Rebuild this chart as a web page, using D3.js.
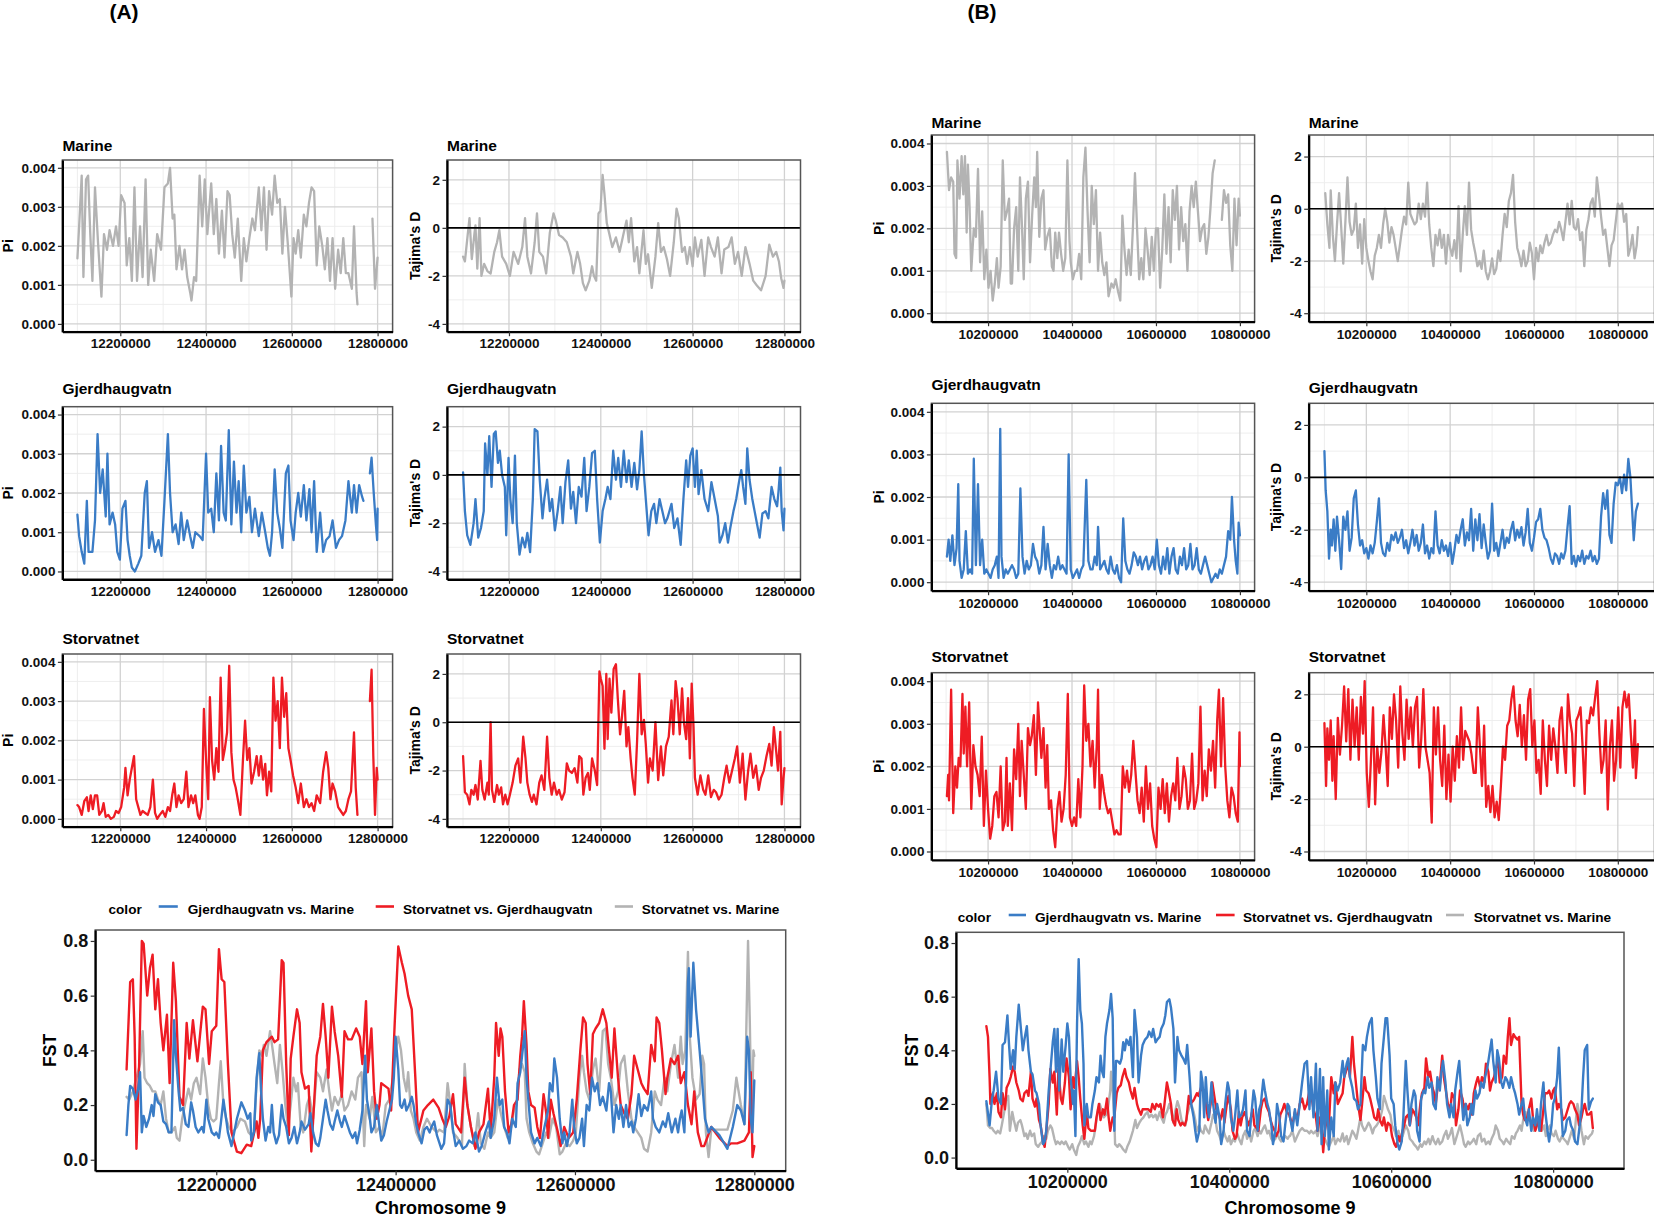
<!DOCTYPE html>
<html><head><meta charset="utf-8">
<script src="https://cdnjs.cloudflare.com/ajax/libs/d3/7.8.5/d3.min.js"></script>
<style>
html,body{margin:0;padding:0;background:#fff}
svg{display:block}
</style>
</head><body>
<svg id="chart" width="1654" height="1219"></svg>
<script>
// ---------------- categories / labels ----------------
const populations = ["Marine", "Gjerdhaugvatn", "Storvatnet"];
const fstLabels = ["Gjerdhaugvatn vs. Marine", "Storvatnet vs. Gjerdhaugvatn", "Storvatnet vs. Marine"];
const popColors = ["#b3b3b3", "#3a7cc6", "#ee1c24"];
const fstColors = ["#3a7cc6", "#ee1c24", "#b3b3b3"];
// tick values (positions in kb)
const xTicksA = [12200, 12400, 12600, 12800];
const xMinorA = [12100, 12300, 12500, 12700];
const xTicksB = [10200, 10400, 10600, 10800];
const xMinorB = [10100, 10300, 10500, 10700];
const piTicks = [0, 0.001, 0.002, 0.003, 0.004];
const piMinor = [0.0005, 0.0015, 0.0025, 0.0035];
const tajTicks = [-4, -2, 0, 2];
const tajMinor = [-3, -1, 1];
const fstTicks = [0, 0.2, 0.4, 0.6, 0.8];

// ---------------- series: [position (kb), value] ----------------
// (A) region, Pi
const piMarA = [[12100,.00168],[12104,.0025],[12110,.0038],[12114,.0012],[12120,.0037],[12125,.0038],[12130,.0023],[12135,.0011],[12141,.0035],[12148,.0021],[12156,.0007],[12162,.0023],[12169,.0019],[12175,.0024],[12183,.002],[12190,.0025],[12196,.002],[12202,.0033],[12210,.0031],[12215,.0015],[12221,.0022],[12227,.0011],[12233,.0035],[12239,.0011],[12246,.0025],[12252,.0012],[12259,.0037],[12265,.001],[12271,.0019],[12279,.0011],[12286,.0023],[12295,.0019],[12303,.0035],[12311,.0036],[12316,.004],[12322,.0027],[12326,.0028],[12331,.0014],[12338,.002],[12344,.0014],[12350,.0019],[12356,.0012],[12363,.0008],[12366,.0006],[12372,.0012],[12377,.0011],[12385,.0038],[12391,.0025],[12397,.0037],[12403,.0023],[12412,.0036],[12418,.0023],[12424,.0032],[12430,.0018],[12437,.0029],[12443,.0017],[12450,.0034],[12455,.0033],[12461,.0023],[12467,.0017],[12474,.0027],[12482,.0011],[12488,.0022],[12494,.0016],[12501,.0022],[12508,.0027],[12514,.0024],[12523,.0035],[12529,.0024],[12535,.0035],[12541,.0019],[12547,.0034],[12554,.0028],[12560,.0038],[12566,.0031],[12572,.0032],[12578,.0018],[12584,.003],[12591,.002],[12599,.0007],[12604,.0022],[12609,.0018],[12615,.0024],[12621,.0017],[12628,.0028],[12634,.0025],[12640,.0031],[12646,.0035],[12652,.0034],[12658,.0015],[12664,.0025],[12671,.002],[12677,.0014],[12683,.0022],[12689,.0011],[12695,.0022],[12701,.0009],[12708,.0019],[12714,.0013],[12720,.0022],[12726,.0013],[12732,.0013],[12740,.0009],[12745,.0025],[12751,.0008],[12753,.0005],[12770,null],[12788,.0027],[12794,.0009],[12800,.0017]];
const piGjA = [[12100,.00145],[12104,.0009],[12110,.0005],[12116,.0002],[12122,.0018],[12126,.0005],[12135,.0005],[12141,.0013],[12147,.0035],[12153,.002],[12159,.0026],[12166,.0014],[12170,.003],[12175,.0012],[12182,.0015],[12188,.0012],[12193,.0005],[12199,.0003],[12205,.0016],[12212,.0018],[12217,.0008],[12222,.0004],[12227,.0001],[12234,0],[12242,.0002],[12249,.0004],[12257,.002],[12262,.0023],[12267,.0006],[12274,.001],[12281,.0005],[12289,.0008],[12296,.0004],[12303,.0018],[12311,.0035],[12316,.002],[12322,.001],[12329,.0012],[12336,.0007],[12342,.0015],[12348,.0008],[12356,.0013],[12363,.0009],[12369,.0006],[12375,.001],[12385,.0009],[12392,.0008],[12400,.003],[12405,.0015],[12412,.0016],[12418,.001],[12424,.0025],[12430,.0013],[12435,.0032],[12441,.0015],[12446,.0013],[12453,.0036],[12459,.0012],[12465,.0028],[12471,.0015],[12476,.0023],[12482,.001],[12488,.0027],[12494,.0015],[12501,.0019],[12507,.001],[12514,.0016],[12523,.0009],[12530,.0015],[12538,.001],[12544,.0006],[12549,.0004],[12554,.001],[12560,.0026],[12566,.0015],[12572,.0011],[12578,.0006],[12586,.0025],[12592,.0027],[12597,.0013],[12604,.0008],[12609,.0015],[12615,.002],[12621,.0014],[12628,.0022],[12634,.0013],[12641,.0021],[12646,.001],[12652,.0023],[12658,.0005],[12666,.0015],[12673,.0005],[12680,.0008],[12688,.0009],[12695,.0013],[12703,.0006],[12710,.0008],[12717,.0009],[12725,.0013],[12732,.0023],[12740,.0015],[12745,.0022],[12751,.0015],[12757,.0022],[12764,.0019],[12767,.0018],[12775,null],[12782,.0025],[12786,.0029],[12791,.002],[12796,.0012],[12799,.0008],[12800,.0016]];
const piStA = [[12100,.00035],[12104,.0003],[12110,.0001],[12116,.00045],[12122,.00055],[12126,.0002],[12131,.0006],[12136,.00025],[12141,.0006],[12146,.0006],[12151,.0001],[12157,.0002],[12161,.0004],[12166,.00005],[12172,.0001],[12178,0],[12185,.00005],[12190,.0002],[12196,.00015],[12202,.0003],[12209,.0008],[12212,.0013],[12217,.0006],[12222,.001],[12227,.0013],[12232,.0016],[12237,.0005],[12242,.0003],[12247,.0001],[12252,.0002],[12258,.00015],[12264,.0001],[12270,.0003],[12276,.001],[12281,.00015],[12286,0],[12292,.0001],[12299,.0002],[12305,.00005],[12311,.0003],[12316,.0002],[12321,.0006],[12326,.0009],[12331,.0003],[12336,.0006],[12342,.0004],[12348,.0005],[12354,.0012],[12359,.0003],[12365,.0006],[12370,.0004],[12375,.0006],[12381,.0001],[12385,0],[12390,.0003],[12395,.0028],[12400,.0015],[12405,.0005],[12409,.0031],[12414,.0015],[12419,.001],[12424,.0018],[12429,.0012],[12434,.0036],[12439,.0015],[12444,.0018],[12449,.0022],[12454,.0039],[12459,.0017],[12464,.001],[12469,.0008],[12474,.0005],[12480,.0001],[12486,.0015],[12491,.0025],[12496,.0015],[12501,.0018],[12506,.0009],[12512,.0012],[12518,.0016],[12523,.0011],[12528,.0016],[12533,.001],[12538,.0014],[12542,.0006],[12547,.0012],[12552,.0007],[12557,.0036],[12562,.0025],[12567,.003],[12572,.0018],[12577,.0036],[12582,.0026],[12587,.0032],[12592,.0018],[12597,.0015],[12603,.0011],[12609,.0008],[12615,.0004],[12621,.0009],[12628,.0003],[12634,.0005],[12640,.0003],[12646,.0004],[12652,.0002],[12658,.0006],[12666,.0004],[12673,.0012],[12680,.0017],[12685,.0013],[12690,.0005],[12695,.0009],[12701,.0007],[12708,.0003],[12714,.0002],[12720,.0001],[12726,.0002],[12732,.0005],[12738,.0007],[12745,.0022],[12749,.0008],[12753,.0001],[12770,null],[12782,.003],[12786,.0038],[12790,.0016],[12794,.0001],[12798,.0013],[12800,.001]];
// (A) region, Tajima's D
const tajMarA = [[12100,-1.2],[12104,-1.4],[12110,-0.3],[12114,0.4],[12119,-1.3],[12125,-0.2],[12127,0.1],[12131,-1.7],[12136,0.4],[12140,-2],[12146,-1.5],[12153,-1.8],[12160,-1.9],[12168,-1],[12174,-0.6],[12179,-0.1],[12185,-1.2],[12194,-1.5],[12202,-2],[12210,-1],[12220,-1.5],[12229,-0.8],[12235,0.4],[12240,-1.2],[12248,-1.9],[12256,-0.6],[12261,0.6],[12266,-1],[12274,-1.2],[12281,-1.9],[12289,-0.2],[12297,0.6],[12302,0.3],[12309,-0.3],[12317,-0.4],[12326,-0.6],[12335,-1.2],[12340,-1.9],[12349,-1],[12355,-1.5],[12361,-2.3],[12367,-2.6],[12375,-2.2],[12381,-1.6],[12385,-2],[12390,-2.2],[12395,0.6],[12399,0.7],[12404,2.2],[12408,1.4],[12413,0.2],[12418,-0.2],[12425,-0.8],[12433,-0.4],[12441,-1],[12450,-0.2],[12456,0.3],[12461,-0.6],[12466,0.4],[12473,-1.4],[12479,-0.8],[12484,-1.9],[12493,-0.1],[12498,-1.5],[12503,-1.1],[12511,-2.5],[12519,-1.2],[12525,0.2],[12531,-1],[12537,-0.8],[12544,-1.3],[12551,-2],[12559,-0.6],[12565,0.8],[12570,0.4],[12577,-1],[12583,-0.8],[12588,-1.5],[12594,-0.8],[12600,-1.6],[12605,-0.4],[12611,-1.2],[12619,-0.5],[12626,-2],[12634,-0.4],[12640,-0.8],[12648,-1.2],[12655,-0.4],[12663,-1.9],[12669,-0.9],[12678,-0.8],[12685,-0.4],[12692,-1.5],[12699,-1],[12707,-2],[12715,-0.8],[12724,-1.5],[12732,-2.2],[12740,-2.4],[12749,-2.6],[12759,-2],[12767,-0.7],[12775,-1.2],[12782,-1],[12788,-1.4],[12793,-2.1],[12798,-2.5],[12800,-2.2]];
const tajGjA = [[12100,0.1],[12104,-1.5],[12109,-2.5],[12116,-2.9],[12123,-2],[12127,-1],[12133,-2.6],[12139,-2.2],[12145,-1.5],[12148,1.3],[12153,0],[12157,1.6],[12162,-0.5],[12167,1.7],[12171,1.8],[12176,0.5],[12180,1],[12185,0],[12191,-0.5],[12194,-2.5],[12199,0.7],[12203,-1],[12208,-2],[12213,0.8],[12217,-2],[12223,-3.3],[12229,-2.6],[12235,-3],[12240,-2.4],[12246,-3.2],[12252,-1],[12256,1.9],[12262,1.8],[12267,-0.2],[12273,-1.8],[12277,-1],[12283,-0.2],[12289,-1.5],[12294,-1],[12300,-2.3],[12306,-1.5],[12312,-0.5],[12317,-2],[12323,-0.3],[12329,0.6],[12335,-1.4],[12340,-0.7],[12346,-2],[12352,-0.5],[12358,-0.9],[12364,0.7],[12369,-1.5],[12375,-0.5],[12381,0.9],[12387,1],[12392,-1],[12398,-2.8],[12404,-1.5],[12410,-1],[12415,-0.5],[12421,-1],[12427,1],[12433,-0.2],[12438,0.7],[12444,-0.5],[12450,1],[12456,-0.3],[12461,0.6],[12467,-0.5],[12473,0.5],[12479,-0.6],[12484,0.2],[12489,1.8],[12494,0],[12498,-1],[12504,-2.5],[12510,-1.5],[12516,-1.2],[12521,-2],[12528,-1],[12534,-1.5],[12540,-2],[12545,-1.8],[12554,-1.2],[12560,-2.2],[12567,-1.8],[12574,-2.9],[12580,-1],[12586,0.6],[12590,-0.5],[12595,0.8],[12600,1.1],[12605,-0.5],[12609,1],[12613,-0.8],[12619,0.2],[12626,-1],[12634,-1.5],[12641,-0.3],[12648,-1],[12655,-1.7],[12659,-2.8],[12665,-2.5],[12671,-2],[12677,-2.8],[12682,-2.2],[12689,-1.5],[12695,-1],[12701,-0.3],[12706,0.2],[12710,-0.5],[12715,-1.2],[12719,1.1],[12724,-0.2],[12730,-1],[12735,-1.5],[12740,-2],[12746,-2.6],[12752,-1.6],[12759,-1.5],[12765,-1.8],[12772,-0.5],[12778,-1],[12784,-1.3],[12787,-0.7],[12791,0.3],[12794,-1.5],[12798,-2.3],[12800,-1.4]];
const tajStA = [[12100,-1.4],[12104,-2.9],[12109,-3],[12114,-3.4],[12118,-2.8],[12123,-3],[12127,-2.6],[12132,-3.2],[12138,-1.6],[12142,-2.8],[12147,-3.2],[12153,-2.5],[12156,-3],[12160,0],[12163,-2.8],[12168,-3.3],[12174,-2.6],[12178,-3],[12183,-2.7],[12187,-3.4],[12192,-3],[12197,-3.4],[12202,-3],[12208,-2.5],[12214,-1.8],[12220,-1.5],[12225,-2.5],[12231,-0.6],[12236,-1.5],[12240,-2.5],[12245,-3],[12250,-3.3],[12254,-3],[12260,-3.4],[12266,-2.5],[12271,-2.2],[12277,-2.8],[12283,-0.6],[12288,-2.3],[12293,-3],[12298,-2.5],[12304,-3],[12309,-2.8],[12315,-3.2],[12321,-2.9],[12326,-1.7],[12331,-2],[12337,-2.1],[12343,-1.9],[12349,-2.5],[12353,-1.4],[12358,-1.5],[12362,-3],[12367,-2.3],[12372,-2.1],[12376,-2.8],[12381,-1.5],[12387,-2],[12392,-2.6],[12397,2.1],[12400,1.8],[12404,1.5],[12408,-1.1],[12412,2],[12415,-0.7],[12419,1.8],[12423,0.4],[12428,2.2],[12433,2.4],[12437,1],[12442,-0.5],[12446,0.2],[12451,1.3],[12456,-1],[12460,-0.2],[12465,-1.5],[12469,-2.3],[12474,-3],[12479,-0.8],[12484,2],[12489,-0.5],[12494,0.1],[12498,-0.9],[12503,-2.5],[12507,-1.5],[12513,-2],[12519,0],[12525,-2.4],[12531,-1],[12536,-2.2],[12542,-1],[12548,-0.6],[12554,0.9],[12558,-0.5],[12563,1.7],[12567,1],[12572,-0.5],[12577,1.4],[12581,0],[12586,-0.7],[12590,1],[12594,-1.5],[12598,1.6],[12602,-0.2],[12605,-2.3],[12611,-3],[12617,-2.2],[12623,-2.8],[12628,-3],[12634,-2.2],[12640,-3.1],[12646,-2.8],[12651,-2.9],[12657,-3.2],[12663,-3],[12669,-2.3],[12674,-1.8],[12680,-2.5],[12686,-2],[12692,-1.5],[12697,-1],[12703,-2.5],[12709,-1.3],[12715,-3.2],[12721,-2],[12726,-1.3],[12732,-2.3],[12738,-1.8],[12744,-2.8],[12749,-2.3],[12755,-2],[12761,-1.4],[12767,-0.9],[12772,-1.8],[12777,-0.2],[12782,-1.2],[12786,-2],[12791,-0.4],[12794,-3.4],[12798,-2.3],[12800,-1.9]];
// (B) region, Pi
const piMarB = [[10102,.0038],[10107,.0029],[10112,.0032],[10117,.0031],[10120,.0014],[10124,.0013],[10127,.0036],[10132,.0027],[10137,.0037],[10141,.0028],[10145,.0037],[10149,.0019],[10152,.0035],[10156,.0025],[10160,.001],[10166,.002],[10171,.0018],[10176,.0034],[10181,.0012],[10186,.0024],[10191,.0008],[10196,.0015],[10201,.0006],[10206,.001],[10211,.0003],[10216,.0007],[10221,.0013],[10225,.0006],[10230,.0011],[10235,.0036],[10240,.0022],[10245,.0024],[10250,.0027],[10254,.0007],[10257,.0007],[10262,.002],[10267,.0025],[10272,.001],[10276,.0032],[10281,.002],[10285,.0008],[10290,.0027],[10295,.0031],[10300,.0012],[10305,.0023],[10310,.0032],[10314,.0025],[10317,.0038],[10322,.0018],[10327,.0027],[10332,.0029],[10336,.0015],[10341,.0018],[10347,.002],[10352,.0011],[10356,.001],[10360,.0019],[10365,.0013],[10369,.0019],[10374,.0014],[10379,.001],[10384,.0013],[10389,.0036],[10394,.0017],[10397,.0012],[10402,.0008],[10407,.001],[10412,.001],[10417,.0014],[10422,.0008],[10427,.0032],[10432,.0039],[10437,.0024],[10442,.0012],[10447,.003],[10452,.0021],[10457,.0029],[10462,.001],[10467,.0019],[10472,.0012],[10477,.0009],[10482,.0012],[10487,.0004],[10494,.0007],[10499,.0006],[10504,.0008],[10510,.0005],[10515,.0003],[10520,.0023],[10525,.0015],[10530,.0009],[10535,.0015],[10540,.0009],[10545,.002],[10550,.0033],[10555,.002],[10560,.0008],[10565,.0013],[10570,.0008],[10575,.002],[10580,.0015],[10585,.0009],[10590,.0018],[10595,.001],[10600,.002],[10605,.002],[10610,.0006],[10615,.0015],[10620,.0028],[10625,.0014],[10630,.0025],[10635,.0012],[10640,.0029],[10645,.0022],[10650,.003],[10655,.0015],[10660,.0025],[10665,.0017],[10670,.0021],[10675,.001],[10680,.0024],[10685,.003],[10690,.0025],[10695,.0031],[10700,.0024],[10705,.0017],[10710,.002],[10715,.0021],[10720,.0014],[10725,.0018],[10730,.0025],[10735,.0033],[10740,.0036],[10748,null],[10757,.0022],[10762,.0029],[10767,.0026],[10772,.0028],[10777,.0016],[10782,.001],[10787,.0027],[10792,.0016],[10797,.0027],[10800,.0023]];
const piGjB = [[10102,.0006],[10106,.001],[10110,.0005],[10115,.0011],[10120,.0004],[10125,.0008],[10129,.0023],[10132,.0005],[10137,.0001],[10142,.0003],[10147,.0012],[10152,.0002],[10157,.0003],[10162,.0002],[10166,.0029],[10171,.0004],[10176,.0023],[10181,.0004],[10186,.001],[10191,.0002],[10196,.0003],[10201,.0002],[10206,.0001],[10211,.0003],[10216,.0004],[10221,.0006],[10225,.0001],[10229,.0036],[10232,.0006],[10237,.0001],[10242,.0003],[10247,.0002],[10252,.0003],[10257,.0004],[10262,.0003],[10267,.0001],[10272,.0002],[10277,.0022],[10282,.0006],[10287,.0002],[10292,.0005],[10297,.0003],[10302,.0004],[10307,.0009],[10312,.0006],[10317,.0005],[10322,.0002],[10327,.0004],[10332,.0013],[10337,.0003],[10342,.0009],[10347,.0004],[10352,.0001],[10357,.0004],[10362,.0003],[10367,.0006],[10372,.0003],[10377,.0004],[10382,.0003],[10387,.0002],[10392,.003],[10397,.0003],[10402,.0001],[10407,.0002],[10412,.0003],[10417,.0001],[10422,.0003],[10427,.0004],[10434,.0024],[10439,.0005],[10444,.0003],[10449,.0003],[10454,.0006],[10459,.0004],[10462,.0013],[10467,.0003],[10472,.0004],[10477,.0005],[10482,.0003],[10487,.0002],[10492,.0006],[10497,.0003],[10502,.0002],[10507,.0004],[10512,.0001],[10517,0],[10522,.0015],[10527,.0005],[10532,.0003],[10537,.0002],[10542,.0004],[10547,.0007],[10552,.0006],[10557,.0004],[10562,.0006],[10567,.0003],[10572,.0005],[10577,.0006],[10582,.0003],[10587,.0004],[10592,.0006],[10597,.0003],[10602,.001],[10607,.0004],[10612,.0002],[10617,.0006],[10622,.0003],[10627,.0008],[10632,.0002],[10637,.0006],[10642,.0008],[10647,.0003],[10652,.0002],[10657,.0006],[10662,.0004],[10667,.0008],[10672,.0003],[10677,.0004],[10682,.0009],[10687,.0003],[10692,.0004],[10697,.0008],[10702,.0003],[10707,.0002],[10712,.0004],[10717,.0006],[10722,.0004],[10727,.0002],[10732,0],[10737,.0001],[10742,.0002],[10747,.0001],[10752,.0003],[10757,.0002],[10762,.0004],[10767,.0006],[10772,.0012],[10777,.001],[10781,.002],[10786,.001],[10790,.0005],[10794,.0002],[10797,.0014],[10800,.0011]];
const piStB = [[10102,.0013],[10105,.0018],[10107,.0012],[10112,.0038],[10117,.0009],[10122,.002],[10126,.0015],[10130,.0022],[10134,.002],[10139,.0037],[10142,.0023],[10146,.0034],[10150,.002],[10155,.0035],[10160,.001],[10165,.0025],[10170,.002],[10175,.0018],[10180,.0013],[10185,.0027],[10190,.0006],[10195,.0019],[10200,.001],[10205,.0003],[10210,.0006],[10215,.0013],[10220,.0014],[10225,.0008],[10230,.002],[10235,.0005],[10240,.0007],[10244,.0022],[10247,.0006],[10252,.0016],[10257,.0005],[10262,.0024],[10267,.0017],[10272,.003],[10276,.0013],[10280,.0026],[10285,.0018],[10290,.001],[10295,.0029],[10300,.0025],[10304,.0027],[10309,.0032],[10314,.0018],[10319,.0035],[10322,.003],[10327,.0022],[10332,.0029],[10337,.0015],[10341,.0025],[10345,.001],[10350,.0012],[10355,.0005],[10360,.0001],[10365,.001],[10370,.0014],[10375,.0007],[10380,.001],[10385,.0018],[10390,.0037],[10395,.0008],[10400,.0006],[10405,.0008],[10410,.0006],[10415,.0017],[10420,.0008],[10425,.002],[10429,.0039],[10434,.0026],[10439,.003],[10444,.002],[10449,.0026],[10454,.0015],[10459,.0025],[10462,.0038],[10466,.001],[10471,.0018],[10476,.0014],[10481,.0011],[10486,.0009],[10491,.001],[10496,.0007],[10501,.0004],[10506,.0005],[10511,.0004],[10516,.0004],[10521,.002],[10526,.0015],[10531,.0019],[10536,.0014],[10541,.0018],[10546,.0026],[10551,.0019],[10556,.0012],[10561,.0009],[10566,.0015],[10571,.0007],[10576,.002],[10581,.001],[10586,.0016],[10591,.0006],[10596,.0003],[10601,.0001],[10606,.0015],[10611,.001],[10616,.0017],[10621,.0009],[10626,.0016],[10631,.0007],[10636,.0013],[10641,.0016],[10646,.0012],[10651,.0022],[10656,.001],[10661,.0013],[10666,.002],[10671,.0017],[10676,.001],[10681,.0012],[10686,.0023],[10691,.001],[10696,.0012],[10701,.0016],[10706,.0034],[10711,.0012],[10716,.0019],[10721,.0013],[10726,.0024],[10731,.0019],[10736,.0026],[10741,.0015],[10746,.0031],[10750,.0038],[10755,.002],[10760,.0036],[10765,.002],[10770,.0012],[10775,.0008],[10780,.0015],[10785,.0013],[10790,.0009],[10795,.0007],[10799,.0028],[10800,.002]];
// (B) region, Tajima's D
const tajMarB = [[10102,0.6],[10107,-0.6],[10112,-1.5],[10115,0.7],[10120,-1],[10125,-2],[10130,-0.6],[10135,0.6],[10140,-0.7],[10145,-2.1],[10150,-0.5],[10155,1.2],[10160,-0.5],[10165,-1],[10170,-0.8],[10175,0.2],[10180,-1.5],[10185,-0.6],[10190,-2.1],[10195,-0.4],[10200,-1.5],[10205,-2],[10210,-2.4],[10215,-2.7],[10220,-1.8],[10225,-1.5],[10230,-1],[10235,-1.5],[10240,-0.6],[10245,0],[10250,-0.5],[10255,-1.3],[10260,-0.7],[10265,-1],[10270,-1.5],[10275,-2],[10280,-1.4],[10285,-0.8],[10290,-0.3],[10295,-0.6],[10300,1],[10305,-0.2],[10310,-0.4],[10315,-0.6],[10320,-0.5],[10325,0.2],[10330,-0.4],[10335,0.2],[10340,-0.3],[10345,1],[10350,-0.6],[10355,-1.5],[10360,-2.2],[10365,-1],[10370,-1.4],[10375,-0.8],[10380,-1.5],[10385,-1],[10390,-2.1],[10395,-1],[10400,-1.5],[10405,-1.8],[10410,-1.2],[10415,-1.9],[10420,0.1],[10425,-2.4],[10430,-1],[10435,0.1],[10440,-1],[10445,1],[10450,-0.8],[10455,-1.3],[10460,-1.7],[10465,-2.2],[10470,-2],[10475,-2.3],[10480,-1.6],[10485,-2.4],[10490,-2.7],[10495,-2.4],[10500,-1.9],[10505,-2.5],[10510,-2.3],[10515,-1.6],[10520,-2],[10525,-1],[10530,-0.2],[10535,-0.7],[10540,0.3],[10545,0.6],[10550,1.3],[10555,-0.5],[10560,-1.5],[10565,-1.8],[10570,-2.2],[10575,-1.6],[10580,-2.2],[10585,-2],[10590,-1.3],[10595,-1.7],[10600,-2.7],[10605,-1.5],[10610,-2],[10615,-1.4],[10620,-1.7],[10625,-1.3],[10630,-1],[10635,-1.4],[10640,-1.3],[10645,-1],[10650,-0.8],[10655,-0.9],[10660,-0.5],[10665,-0.8],[10670,-1.2],[10675,-0.5],[10680,0.2],[10685,-0.6],[10690,0.3],[10695,-0.7],[10700,-0.8],[10705,-0.4],[10710,-1.2],[10715,-0.9],[10720,-2.2],[10725,-0.8],[10730,-0.4],[10735,0.2],[10740,0.4],[10745,-0.3],[10750,1.2],[10755,0.5],[10760,-0.3],[10765,-1],[10770,-0.8],[10775,-1.5],[10780,-2.2],[10785,-1.4],[10790,-1.2],[10795,-0.5],[10800,0.2],[10805,0],[10810,0.2],[10815,-0.5],[10820,-0.2],[10825,-1.8],[10830,-1.5],[10835,-1],[10840,-1.9],[10845,-1.4],[10848,-0.7]];
const tajGjB = [[10100,1],[10103,-0.5],[10107,-1.3],[10111,-3.1],[10115,-2],[10118,-2.6],[10122,-1.6],[10126,-2.8],[10130,-1.5],[10135,-2.4],[10140,-3.5],[10145,-1.5],[10150,-2],[10155,-1.3],[10160,-2.8],[10165,-2.3],[10170,-0.8],[10175,-0.5],[10180,-1.8],[10185,-2.6],[10190,-2.4],[10195,-2.9],[10200,-2.7],[10205,-3.1],[10210,-2.6],[10215,-2.9],[10220,-2.5],[10225,-1.7],[10230,-0.8],[10235,-2.5],[10240,-2.9],[10245,-3],[10250,-2.5],[10255,-2.8],[10260,-2.2],[10265,-2.4],[10270,-2.1],[10275,-2.5],[10280,-2.3],[10285,-2],[10290,-2.7],[10295,-2.4],[10300,-2.9],[10305,-2.5],[10310,-2],[10315,-2.6],[10320,-2.2],[10325,-2.8],[10330,-2.5],[10335,-1.8],[10340,-2.9],[10345,-2.6],[10350,-3.1],[10355,-2.7],[10360,-2.9],[10365,-1.3],[10370,-2.6],[10375,-2.9],[10380,-2.4],[10385,-2.8],[10390,-2.6],[10395,-3],[10400,-2.5],[10405,-3.3],[10410,-2.8],[10415,-2.2],[10420,-2.5],[10425,-2],[10430,-1.6],[10435,-2.6],[10440,-2.1],[10445,-2.4],[10450,-1.2],[10455,-2.8],[10460,-1.6],[10465,-2.4],[10470,-1.4],[10475,-2.7],[10480,-1.8],[10485,-2.5],[10490,-3.1],[10495,-2.8],[10500,-1],[10505,-2.8],[10510,-2.5],[10515,-3],[10520,-2.5],[10525,-2],[10530,-2.7],[10535,-2.3],[10540,-2.5],[10545,-2],[10550,-1.7],[10555,-2.4],[10560,-2],[10565,-2.3],[10570,-1.9],[10575,-2.6],[10580,-2.1],[10585,-1.2],[10590,-2.5],[10595,-2.8],[10600,-2.3],[10605,-1.7],[10610,-1.6],[10615,-1.2],[10620,-2],[10625,-2.3],[10630,-2.4],[10635,-2.7],[10640,-3.1],[10645,-3.3],[10650,-2.9],[10655,-3],[10660,-3.3],[10665,-2.9],[10670,-3.1],[10675,-2.8],[10680,-1.9],[10685,-1.1],[10690,-3.3],[10695,-3],[10700,-3.4],[10705,-3],[10710,-3.2],[10715,-2.8],[10720,-3.3],[10725,-3],[10730,-3.1],[10735,-2.8],[10740,-3.2],[10745,-3],[10750,-3.3],[10755,-3.1],[10760,-1.5],[10765,-0.6],[10770,-1.2],[10775,-0.5],[10780,-2.2],[10785,-2.5],[10790,-1],[10795,-0.2],[10800,-0.3],[10805,0],[10810,-0.6],[10815,0.1],[10820,-0.5],[10825,0.7],[10830,0],[10835,-1.5],[10838,-2.4],[10843,-1.3],[10848,-1]];
const tajStB = [[10100,0.9],[10104,-1.5],[10107,0.7],[10111,-0.5],[10115,1],[10119,-1.3],[10122,0.4],[10127,-2],[10132,1.1],[10137,-0.3],[10142,0.8],[10147,2.3],[10152,0.2],[10157,2.2],[10162,-0.5],[10167,1.8],[10172,0],[10177,1.5],[10182,-0.5],[10187,1.9],[10192,0.5],[10196,2.5],[10201,-1],[10206,-2.3],[10211,-0.5],[10216,1.5],[10221,-2.2],[10226,0],[10231,-1],[10236,-0.2],[10241,1.2],[10246,0],[10251,-1.5],[10256,1.5],[10261,0.3],[10266,2],[10271,1],[10276,-0.8],[10281,2.3],[10286,0.5],[10291,-0.5],[10296,1.8],[10301,0.3],[10306,1.5],[10311,0],[10316,1.5],[10321,1.9],[10326,-0.8],[10331,0.3],[10336,2.2],[10341,0],[10346,-0.5],[10351,-1],[10356,-2.9],[10361,1.5],[10366,-0.3],[10371,1.5],[10376,-0.5],[10381,-1.5],[10386,0.8],[10391,-2],[10396,-0.3],[10401,-2.1],[10406,0],[10411,-1.3],[10416,0.4],[10421,-0.8],[10426,1.5],[10431,-0.5],[10436,0.6],[10441,0.4],[10446,0.2],[10451,-0.3],[10456,-1],[10461,-1],[10466,1.5],[10471,0],[10476,-1.5],[10481,0.8],[10486,-2.3],[10491,-1.5],[10496,-2.5],[10501,-1.5],[10506,-2.7],[10511,-2.1],[10516,-2.8],[10521,-1.5],[10526,0],[10531,-0.5],[10536,0.8],[10541,1],[10546,1.8],[10551,2.3],[10556,1],[10561,0.4],[10566,1.6],[10571,0],[10576,1.2],[10581,-0.5],[10586,1.8],[10591,2.2],[10596,0],[10601,1],[10606,-1],[10611,-0.5],[10616,-1.8],[10621,1],[10626,-0.5],[10631,-1.5],[10636,0.8],[10641,-0.5],[10646,0.7],[10651,0],[10656,-1],[10661,1],[10666,1.5],[10671,0],[10676,-1],[10681,2],[10686,1],[10691,0.5],[10696,-1.5],[10701,1],[10706,1.2],[10711,1.5],[10716,0],[10721,-1.8],[10726,1],[10731,0.9],[10736,1.5],[10741,1.2],[10746,1.9],[10751,2.5],[10756,0.5],[10761,-1],[10766,-0.5],[10771,1],[10776,-2.4],[10781,0],[10786,1],[10791,-1.3],[10796,-0.5],[10801,1.5],[10806,-0.8],[10811,1.5],[10816,2.1],[10821,1.5],[10826,2],[10831,0.5],[10836,-0.8],[10841,1],[10843,-1.2],[10848,0.1]];
// (A) region, FST
const fstGjMarA = [[12100,.09],[12102,.2],[12104,.27],[12107,.26],[12110,.22],[12113,.26],[12115,.32],[12117,.1],[12119,.16],[12122,.12],[12125,.15],[12128,.2],[12130,.16],[12132,.24],[12135,.21],[12138,.2],[12141,.14],[12144,.13],[12147,.1],[12150,.1],[12153,.51],[12155,.38],[12158,.25],[12160,.18],[12163,.19],[12166,.13],[12169,.12],[12172,.21],[12174,.18],[12177,.12],[12180,.1],[12184,.12],[12186,.1],[12189,.22],[12191,.15],[12195,.1],[12198,.09],[12200,.1],[12203,.08],[12205,.13],[12208,.22],[12211,.15],[12213,.1],[12217,.05],[12220,.1],[12223,.15],[12228,.21],[12232,.18],[12235,.15],[12238,.17],[12239,.07],[12242,.1],[12245,.3],[12248,.39],[12250,.25],[12252,.15],[12255,.07],[12258,.12],[12260,.1],[12262,.2],[12264,.1],[12267,.06],[12270,.09],[12273,.2],[12275,.15],[12278,.12],[12281,.06],[12284,.08],[12287,.12],[12290,.06],[12293,.1],[12295,.14],[12299,.11],[12303,.13],[12305,.17],[12308,.1],[12311,.06],[12314,.05],[12316,.08],[12319,.15],[12322,.22],[12324,.18],[12327,.13],[12330,.11],[12332,.14],[12335,.18],[12338,.14],[12340,.12],[12343,.16],[12346,.13],[12349,.1],[12352,.08],[12355,.1],[12357,.06],[12360,.11],[12363,.18],[12366,.38],[12368,.22],[12371,.16],[12373,.1],[12376,.12],[12379,.2],[12382,.12],[12384,.07],[12387,.09],[12390,.14],[12393,.18],[12396,.22],[12398,.3],[12400,.45],[12403,.33],[12405,.2],[12407,.19],[12410,.22],[12412,.18],[12415,.2],[12418,.23],[12420,.2],[12423,.13],[12426,.09],[12429,.06],[12432,.11],[12435,.12],[12438,.1],[12440,.12],[12443,.14],[12446,.09],[12449,.06],[12451,.04],[12454,.06],[12458,.22],[12461,.2],[12464,.11],[12467,.05],[12471,.07],[12475,.04],[12479,.05],[12482,.07],[12486,.06],[12489,.1],[12493,.03],[12496,.05],[12500,.1],[12504,.14],[12506,.08],[12510,.15],[12513,.3],[12516,.2],[12519,.22],[12521,.12],[12524,.1],[12527,.06],[12530,.15],[12534,.12],[12536,.28],[12539,.32],[12541,.38],[12544,.47],[12546,.3],[12548,.22],[12551,.1],[12555,.06],[12558,.08],[12562,.05],[12566,.12],[12570,.18],[12572,.28],[12575,.25],[12577,.37],[12580,.3],[12583,.15],[12586,.06],[12588,.1],[12591,.05],[12594,.1],[12597,.22],[12599,.12],[12602,.06],[12605,.08],[12608,.15],[12610,.05],[12613,.2],[12616,.18],[12619,.3],[12622,.25],[12625,.28],[12628,.2],[12631,.23],[12635,.18],[12638,.28],[12640,.25],[12643,.1],[12646,.2],[12649,.15],[12651,.2],[12654,.12],[12657,.2],[12660,.12],[12663,.14],[12665,.1],[12668,.15],[12671,.24],[12674,.16],[12677,.2],[12681,.18],[12685,.25],[12687,.15],[12690,.12],[12694,.1],[12698,.14],[12701,.12],[12704,.17],[12708,.1],[12712,.15],[12715,.1],[12717,.15],[12719,.18],[12722,.1],[12724,.3],[12726,.65],[12727,.7],[12729,.45],[12732,.72],[12735,.55],[12739,.4],[12742,.28],[12745,.15],[12749,.1],[12752,.12],[12761,.09],[12770,.04],[12776,.12],[12781,.2],[12785,.18],[12789,.13],[12792,.45],[12794,.4],[12796,.15],[12798,.1],[12800,.29]];
const fstStGjA = [[12100,.33],[12104,.65],[12107,.66],[12109,.45],[12111,.04],[12114,.35],[12117,.8],[12119,.79],[12123,.6],[12126,.7],[12129,.75],[12132,.55],[12135,.66],[12138,.5],[12141,.4],[12145,.53],[12148,.28],[12152,.72],[12155,.58],[12159,.23],[12163,.2],[12167,.5],[12170,.37],[12174,.51],[12179,.36],[12185,.56],[12188,.55],[12192,.35],[12195,.47],[12200,.49],[12203,.77],[12206,.66],[12209,.65],[12213,.35],[12217,.1],[12223,.03],[12228,.024],[12234,.055],[12239,.05],[12245,.14],[12247,.08],[12249,.15],[12252,.4],[12256,.43],[12262,.45],[12265,.43],[12269,.44],[12273,.73],[12275,.72],[12278,.35],[12281,.09],[12283,.37],[12286,.45],[12290,.55],[12293,.5],[12295,.32],[12299,.26],[12303,.27],[12306,.03],[12309,.2],[12312,.38],[12316,.45],[12319,.57],[12322,.45],[12325,.3],[12329,.56],[12332,.47],[12336,.38],[12340,.23],[12343,.47],[12347,.44],[12351,.44],[12356,.48],[12360,.45],[12363,.35],[12367,.58],[12369,.32],[12373,.48],[12376,.25],[12379,.15],[12382,.2],[12384,.28],[12388,.27],[12392,.26],[12395,.18],[12399,.5],[12403,.78],[12407,.72],[12410,.68],[12414,.6],[12418,.55],[12422,.3],[12425,.1],[12431,.18],[12436,.2],[12442,.22],[12448,.19],[12452,.15],[12456,.12],[12460,.16],[12464,.24],[12467,.13],[12473,.1],[12477,.3],[12480,.2],[12484,.12],[12489,.04],[12493,.1],[12498,.13],[12503,.26],[12506,.1],[12510,.3],[12512,.5],[12515,.38],[12517,.48],[12519,.45],[12522,.25],[12526,.1],[12529,.13],[12532,.2],[12536,.22],[12539,.38],[12541,.45],[12543,.58],[12546,.42],[12548,.25],[12551,.2],[12555,.19],[12558,.12],[12561,.08],[12565,.24],[12568,.17],[12570,.08],[12573,.22],[12576,.17],[12581,.1],[12584,.05],[12588,.12],[12593,.08],[12598,.1],[12602,.22],[12606,.4],[12609,.52],[12612,.5],[12614,.35],[12617,.24],[12620,.46],[12623,.48],[12627,.5],[12631,.55],[12635,.5],[12638,.4],[12641,.3],[12644,.48],[12648,.3],[12651,.2],[12655,.17],[12659,.15],[12663,.24],[12666,.38],[12670,.33],[12674,.28],[12677,.26],[12681,.24],[12685,.42],[12689,.36],[12691,.52],[12694,.5],[12697,.4],[12701,.24],[12703,.3],[12707,.37],[12711,.35],[12715,.38],[12718,.28],[12722,.32],[12726,.2],[12730,.13],[12733,.25],[12737,.1],[12741,.05],[12744,.05],[12752,.12],[12761,.08],[12770,.05],[12774,.06],[12781,.06],[12789,.07],[12794,.1],[12796,.32],[12798,.01],[12800,.05]];
const fstStMarA = [[12100,.23],[12103,.22],[12107,.25],[12111,.3],[12115,.35],[12118,.47],[12120,.3],[12123,.28],[12126,.27],[12129,.25],[12132,.25],[12135,.22],[12138,.2],[12141,.25],[12144,.15],[12147,.1],[12150,.1],[12154,.12],[12156,.08],[12159,.07],[12162,.15],[12165,.2],[12169,.26],[12172,.22],[12175,.28],[12178,.3],[12182,.24],[12185,.37],[12188,.3],[12191,.2],[12194,.15],[12197,.14],[12200,.15],[12203,.28],[12205,.36],[12208,.2],[12211,.15],[12214,.12],[12218,.1],[12223,.12],[12227,.15],[12232,.14],[12236,.1],[12239,.09],[12242,.1],[12245,.28],[12248,.4],[12251,.38],[12253,.42],[12256,.38],[12260,.47],[12263,.4],[12265,.35],[12268,.28],[12271,.42],[12274,.32],[12277,.2],[12280,.12],[12283,.2],[12286,.3],[12289,.25],[12291,.28],[12294,.13],[12297,.1],[12301,.2],[12304,.23],[12308,.15],[12312,.32],[12316,.3],[12319,.25],[12323,.33],[12326,.25],[12329,.18],[12332,.23],[12336,.2],[12340,.24],[12343,.18],[12347,.2],[12351,.25],[12355,.22],[12358,.3],[12362,.32],[12365,.05],[12367,.2],[12371,.15],[12374,.23],[12378,.1],[12382,.12],[12385,.08],[12389,.2],[12393,.22],[12397,.3],[12400,.4],[12403,.45],[12406,.4],[12409,.3],[12412,.25],[12414,.32],[12417,.18],[12420,.15],[12423,.1],[12427,.07],[12431,.12],[12435,.15],[12440,.12],[12446,.1],[12449,.11],[12454,.1],[12458,.28],[12461,.2],[12464,.1],[12469,.08],[12474,.05],[12477,.35],[12480,.2],[12484,.12],[12488,.05],[12492,.17],[12495,.06],[12499,.04],[12503,.1],[12506,.08],[12510,.1],[12514,.22],[12518,.16],[12521,.12],[12525,.08],[12529,.12],[12532,.18],[12535,.2],[12538,.33],[12541,.35],[12544,.32],[12546,.15],[12549,.1],[12553,.06],[12557,.03],[12560,.02],[12564,.06],[12568,.1],[12571,.08],[12575,.15],[12579,.12],[12583,.02],[12586,.03],[12590,.06],[12594,.05],[12598,.07],[12601,.1],[12605,.3],[12608,.38],[12610,.32],[12613,.25],[12616,.22],[12620,.33],[12623,.37],[12627,.25],[12631,.47],[12634,.48],[12637,.35],[12640,.3],[12644,.2],[12648,.25],[12651,.35],[12655,.38],[12659,.25],[12663,.15],[12666,.12],[12670,.1],[12674,.08],[12677,.04],[12681,.03],[12685,.1],[12689,.25],[12692,.22],[12696,.2],[12700,.3],[12703,.25],[12707,.35],[12711,.42],[12715,.3],[12718,.45],[12720,.35],[12723,.4],[12726,.76],[12728,.45],[12731,.3],[12735,.22],[12739,.24],[12742,.38],[12744,.35],[12746,.1],[12749,.01],[12752,.11],[12761,.11],[12770,.11],[12776,.18],[12780,.3],[12785,.2],[12789,.13],[12793,.8],[12795,.5],[12797,.1],[12799,.4],[12800,.38]];
// (B) region, FST
const fstGjMarB = [[10100,.21],[10104,.12],[10107,.22],[10109,.25],[10112,.32],[10115,.22],[10118,.2],[10120,.42],[10123,.43],[10126,.53],[10128,.42],[10130,.33],[10133,.4],[10135,.33],[10137,.45],[10140,.57],[10143,.47],[10145,.4],[10147,.44],[10150,.49],[10152,.4],[10155,.32],[10157,.31],[10160,.25],[10162,.24],[10165,.2],[10167,.12],[10170,.05],[10172,.06],[10174,.1],[10177,.25],[10179,.32],[10182,.43],[10184,.48],[10186,.32],[10188,.48],[10190,.25],[10193,.44],[10195,.32],[10198,.42],[10200,.5],[10202,.45],[10204,.3],[10207,.2],[10208,.25],[10210,.08],[10212,.5],[10214,.74],[10216,.55],[10218,.5],[10220,.35],[10221,.12],[10224,.2],[10226,.15],[10229,.15],[10231,.2],[10234,.25],[10236,.3],[10239,.28],[10241,.38],[10243,.32],[10245,.3],[10247,.45],[10249,.5],[10252,.55],[10254,.61],[10256,.52],[10258,.1],[10260,.36],[10262,.36],[10265,.35],[10267,.37],[10269,.43],[10271,.4],[10273,.44],[10276,.42],[10278,.45],[10281,.3],[10283,.55],[10286,.45],[10288,.28],[10291,.38],[10293,.42],[10296,.44],[10299,.45],[10301,.47],[10304,.45],[10306,.48],[10309,.43],[10311,.44],[10314,.45],[10316,.48],[10319,.5],[10321,.53],[10323,.58],[10326,.59],[10328,.56],[10331,.48],[10333,.28],[10336,.45],[10338,.4],[10341,.38],[10343,.37],[10346,.35],[10348,.42],[10351,.3],[10353,.2],[10356,.15],[10358,.1],[10360,.06],[10363,.1],[10365,.32],[10367,.28],[10369,.15],[10371,.3],[10373,.2],[10375,.15],[10378,.28],[10380,.2],[10383,.13],[10385,.2],[10388,.15],[10390,.05],[10393,.1],[10395,.2],[10398,.28],[10400,.25],[10402,.15],[10405,.1],[10407,.15],[10410,.25],[10412,.15],[10415,.16],[10417,.18],[10420,.25],[10422,.1],[10425,.08],[10427,.15],[10430,.25],[10432,.22],[10435,.1],[10437,.18],[10439,.2],[10442,.29],[10444,.25],[10447,.2],[10449,.18],[10452,.12],[10454,.05],[10457,.1],[10459,.2],[10462,.15],[10464,.08],[10467,.06],[10469,.12],[10472,.2],[10474,.19],[10475,.15],[10478,.1],[10481,.18],[10484,.12],[10487,.2],[10490,.28],[10493,.35],[10496,.36],[10499,.18],[10501,.3],[10504,.15],[10507,.35],[10509,.1],[10512,.33],[10514,.05],[10516,.3],[10518,.08],[10521,.25],[10523,.03],[10526,.15],[10529,.08],[10531,.28],[10534,.25],[10537,.28],[10540,.36],[10542,.3],[10545,.35],[10547,.37],[10549,.3],[10552,.26],[10554,.22],[10557,.21],[10559,.18],[10562,.2],[10565,.42],[10568,.4],[10570,.45],[10573,.5],[10576,.52],[10578,.4],[10581,.3],[10583,.22],[10586,.18],[10588,.35],[10591,.45],[10593,.52],[10595,.52],[10598,.38],[10600,.22],[10603,.2],[10605,.12],[10608,.05],[10610,.03],[10613,.06],[10615,.15],[10618,.36],[10620,.25],[10623,.12],[10625,.2],[10628,.25],[10630,.23],[10632,.1],[10635,.06],[10637,.22],[10640,.25],[10642,.24],[10645,.3],[10647,.26],[10650,.28],[10652,.2],[10655,.18],[10657,.3],[10660,.25],[10662,.32],[10664,.36],[10667,.28],[10669,.2],[10672,.15],[10674,.2],[10677,.15],[10679,.25],[10682,.32],[10684,.36],[10687,.22],[10689,.14],[10692,.2],[10694,.12],[10697,.15],[10699,.2],[10701,.16],[10704,.25],[10706,.22],[10709,.24],[10711,.28],[10714,.26],[10716,.3],[10719,.34],[10721,.38],[10724,.44],[10726,.36],[10729,.28],[10731,.4],[10733,.37],[10736,.28],[10738,.26],[10741,.3],[10743,.29],[10746,.26],[10748,.3],[10751,.26],[10753,.24],[10756,.2],[10758,.16],[10761,.2],[10763,.22],[10765,.15],[10768,.12],[10770,.18],[10773,.1],[10775,.15],[10778,.12],[10780,.18],[10783,.1],[10785,.2],[10788,.28],[10790,.18],[10793,.1],[10795,.06],[10798,.12],[10800,.2],[10802,.22],[10805,.3],[10807,.41],[10810,.18],[10812,.08],[10815,.1],[10817,.14],[10820,.15],[10822,.12],[10825,.1],[10827,.06],[10830,.05],[10832,.1],[10835,.18],[10837,.3],[10839,.4],[10842,.42],[10844,.18],[10847,.21],[10849,.22]];
const fstStGjB = [[10100,.49],[10102,.45],[10104,.3],[10105,.2],[10108,.24],[10110,.2],[10113,.24],[10115,.17],[10118,.15],[10120,.24],[10123,.18],[10125,.26],[10128,.28],[10130,.3],[10133,.34],[10135,.32],[10137,.28],[10140,.25],[10142,.22],[10145,.21],[10147,.24],[10150,.25],[10152,.23],[10155,.32],[10157,.22],[10160,.19],[10162,.22],[10165,.14],[10167,.12],[10170,.06],[10172,.04],[10174,.1],[10177,.2],[10179,.33],[10182,.28],[10184,.32],[10187,.16],[10189,.33],[10192,.22],[10194,.2],[10197,.28],[10199,.37],[10202,.3],[10204,.18],[10207,.3],[10209,.26],[10212,.36],[10214,.3],[10216,.22],[10219,.12],[10221,.07],[10224,.17],[10226,.11],[10229,.1],[10231,.1],[10234,.1],[10236,.15],[10239,.2],[10241,.14],[10244,.18],[10246,.16],[10249,.22],[10251,.15],[10253,.1],[10256,.15],[10258,.15],[10261,.24],[10263,.26],[10266,.27],[10268,.3],[10271,.33],[10273,.3],[10276,.28],[10278,.25],[10281,.22],[10283,.26],[10286,.2],[10288,.18],[10291,.16],[10293,.18],[10295,.18],[10298,.18],[10300,.18],[10303,.17],[10305,.2],[10308,.18],[10310,.2],[10313,.19],[10315,.2],[10318,.15],[10320,.2],[10323,.28],[10325,.25],[10328,.2],[10330,.14],[10333,.12],[10335,.18],[10337,.14],[10340,.12],[10342,.13],[10345,.12],[10347,.14],[10350,.23],[10352,.2],[10355,.21],[10357,.22],[10360,.24],[10362,.23],[10365,.26],[10367,.25],[10370,.24],[10372,.18],[10374,.14],[10377,.2],[10379,.28],[10382,.22],[10384,.18],[10387,.16],[10389,.14],[10392,.18],[10394,.13],[10397,.2],[10399,.23],[10402,.18],[10404,.1],[10407,.07],[10409,.08],[10412,.17],[10414,.12],[10416,.15],[10419,.17],[10421,.15],[10424,.12],[10426,.14],[10429,.18],[10431,.12],[10434,.11],[10436,.1],[10439,.18],[10441,.21],[10444,.22],[10446,.19],[10449,.17],[10451,.14],[10453,.12],[10456,.1],[10458,.08],[10461,.1],[10463,.16],[10466,.18],[10468,.2],[10471,.17],[10474,.16],[10475,.15],[10478,.12],[10481,.17],[10484,.14],[10487,.2],[10490,.22],[10493,.18],[10496,.2],[10499,.25],[10501,.24],[10504,.18],[10507,.15],[10509,.1],[10512,.15],[10514,.12],[10516,.02],[10518,.1],[10521,.15],[10523,.12],[10526,.3],[10529,.24],[10531,.28],[10534,.2],[10537,.22],[10540,.24],[10542,.3],[10545,.33],[10547,.35],[10549,.3],[10552,.45],[10554,.35],[10557,.26],[10559,.2],[10562,.14],[10564,.2],[10567,.3],[10569,.25],[10572,.24],[10574,.22],[10577,.18],[10579,.15],[10582,.14],[10584,.18],[10586,.14],[10589,.12],[10591,.15],[10594,.1],[10596,.13],[10599,.12],[10601,.08],[10604,.05],[10606,.04],[10609,.08],[10611,.06],[10614,.1],[10616,.12],[10618,.15],[10621,.16],[10623,.12],[10626,.18],[10628,.17],[10631,.15],[10633,.12],[10636,.2],[10638,.24],[10641,.26],[10643,.37],[10646,.3],[10648,.32],[10651,.26],[10653,.24],[10655,.2],[10658,.28],[10660,.27],[10663,.38],[10665,.3],[10668,.24],[10670,.2],[10673,.18],[10675,.24],[10678,.22],[10680,.12],[10683,.18],[10685,.25],[10688,.22],[10690,.18],[10692,.2],[10695,.18],[10697,.2],[10700,.16],[10702,.24],[10705,.28],[10707,.3],[10710,.26],[10712,.3],[10715,.28],[10717,.35],[10720,.32],[10722,.25],[10724,.28],[10727,.3],[10729,.33],[10732,.36],[10734,.28],[10737,.3],[10739,.38],[10742,.35],[10744,.45],[10746,.52],[10748,.42],[10751,.46],[10753,.45],[10756,.44],[10758,.45],[10761,.2],[10763,.16],[10765,.14],[10768,.15],[10770,.18],[10773,.22],[10775,.15],[10778,.1],[10780,.12],[10783,.15],[10785,.1],[10788,.18],[10790,.24],[10793,.24],[10795,.25],[10798,.22],[10800,.25],[10802,.26],[10805,.18],[10807,.2],[10810,.18],[10812,.14],[10815,.15],[10817,.17],[10820,.2],[10822,.21],[10825,.2],[10827,.18],[10830,.16],[10832,.12],[10835,.15],[10837,.18],[10839,.2],[10842,.16],[10844,.16],[10847,.17],[10849,.11]];
const fstStMarB = [[10100,.2],[10102,.12],[10105,.11],[10107,.11],[10109,.1],[10112,.09],[10114,.1],[10117,.09],[10119,.12],[10122,.17],[10124,.21],[10127,.23],[10129,.1],[10132,.17],[10134,.14],[10137,.1],[10139,.13],[10142,.14],[10144,.12],[10147,.08],[10149,.09],[10151,.07],[10154,.1],[10156,.08],[10159,.09],[10161,.05],[10164,.04],[10166,.05],[10169,.06],[10171,.08],[10174,.07],[10176,.1],[10179,.12],[10181,.11],[10184,.07],[10186,.05],[10188,.06],[10191,.05],[10193,.06],[10196,.05],[10198,.06],[10201,.04],[10203,.03],[10206,.05],[10208,.03],[10211,.01],[10213,.04],[10216,.06],[10218,.08],[10221,.05],[10223,.06],[10226,.04],[10228,.06],[10230,.05],[10233,.08],[10235,.12],[10238,.18],[10240,.2],[10243,.17],[10245,.15],[10248,.16],[10250,.18],[10253,.25],[10254,.32],[10256,.25],[10258,.15],[10259,.05],[10262,.04],[10264,.05],[10267,.04],[10269,.03],[10272,.02],[10274,.04],[10277,.06],[10279,.08],[10281,.1],[10284,.14],[10286,.11],[10289,.13],[10291,.14],[10294,.15],[10296,.16],[10299,.17],[10301,.15],[10304,.16],[10306,.15],[10309,.16],[10311,.14],[10314,.17],[10316,.15],[10319,.13],[10321,.16],[10323,.17],[10326,.2],[10328,.18],[10331,.13],[10333,.17],[10336,.21],[10338,.19],[10341,.14],[10343,.13],[10346,.12],[10348,.16],[10351,.19],[10353,.2],[10356,.17],[10358,.14],[10360,.1],[10363,.12],[10365,.1],[10368,.09],[10370,.12],[10373,.1],[10375,.09],[10378,.13],[10380,.16],[10383,.14],[10385,.1],[10388,.08],[10390,.06],[10393,.1],[10395,.08],[10398,.06],[10400,.08],[10402,.05],[10405,.07],[10407,.06],[10410,.09],[10412,.07],[10415,.05],[10417,.08],[10420,.1],[10422,.07],[10425,.09],[10427,.06],[10430,.1],[10432,.11],[10435,.08],[10437,.1],[10439,.09],[10442,.11],[10444,.12],[10447,.09],[10449,.1],[10452,.07],[10454,.06],[10457,.07],[10459,.09],[10462,.07],[10464,.06],[10467,.07],[10469,.08],[10472,.07],[10474,.08],[10475,.08],[10478,.1],[10481,.06],[10484,.08],[10487,.1],[10490,.11],[10493,.1],[10496,.1],[10499,.09],[10501,.1],[10504,.09],[10507,.1],[10509,.08],[10512,.12],[10514,.09],[10516,.08],[10518,.07],[10521,.05],[10523,.04],[10526,.06],[10529,.08],[10531,.05],[10534,.07],[10537,.06],[10540,.09],[10542,.06],[10545,.08],[10547,.05],[10549,.07],[10552,.1],[10554,.09],[10557,.07],[10559,.1],[10562,.15],[10564,.12],[10567,.1],[10569,.11],[10572,.13],[10574,.12],[10577,.09],[10579,.11],[10582,.12],[10584,.13],[10586,.14],[10589,.18],[10591,.23],[10594,.2],[10596,.18],[10599,.16],[10601,.12],[10604,.1],[10606,.08],[10609,.1],[10611,.07],[10614,.08],[10616,.1],[10618,.12],[10621,.1],[10623,.07],[10626,.06],[10628,.05],[10631,.04],[10633,.03],[10636,.05],[10638,.04],[10641,.06],[10643,.05],[10646,.07],[10648,.05],[10651,.08],[10653,.06],[10655,.05],[10658,.07],[10660,.05],[10663,.06],[10665,.08],[10668,.1],[10670,.07],[10673,.09],[10675,.11],[10678,.05],[10680,.07],[10683,.1],[10685,.12],[10688,.08],[10690,.05],[10692,.04],[10695,.06],[10697,.05],[10700,.06],[10702,.07],[10705,.05],[10707,.08],[10710,.09],[10712,.06],[10715,.07],[10717,.05],[10720,.06],[10722,.05],[10724,.07],[10727,.09],[10729,.12],[10732,.1],[10734,.07],[10737,.06],[10739,.05],[10742,.07],[10744,.06],[10747,.05],[10749,.08],[10752,.07],[10754,.09],[10756,.1],[10759,.12],[10761,.1],[10764,.16],[10766,.17],[10769,.14],[10771,.15],[10774,.13],[10776,.1],[10779,.12],[10781,.15],[10784,.13],[10786,.1],[10789,.12],[10791,.08],[10793,.1],[10796,.12],[10798,.09],[10801,.08],[10803,.1],[10806,.07],[10808,.06],[10811,.08],[10813,.07],[10816,.06],[10818,.05],[10821,.08],[10823,.1],[10826,.07],[10828,.14],[10830,.2],[10833,.15],[10835,.1],[10838,.05],[10840,.08],[10843,.07],[10845,.08],[10848,.09],[10849,.1]];

// ---------------- drawing ----------------
const FONT = '"Liberation Sans", Arial, Helvetica, sans-serif';
const svg = d3.select("#chart").attr("font-family", FONT).attr("font-weight", "bold");
svg.append("rect").attr("width", 1654).attr("height", 1219).attr("fill", "#fff");
const defs = svg.append("defs");
let clipN = 0;

function drawPanel(p) {
  const x = d3.scaleLinear().domain(p.xDomain).range([p.x0, p.x1]);
  const y = d3.scaleLinear().domain(p.yDomain).range([p.y1, p.y0]);
  const g = svg.append("g");
  const cid = "clip" + (clipN++);
  defs.append("clipPath").attr("id", cid).append("rect")
    .attr("x", p.x0).attr("y", p.y0).attr("width", p.x1 - p.x0).attr("height", p.y1 - p.y0);
  if (p.grid) {
    const gg = g.append("g");
    gg.selectAll(".vmin").data(p.xMinor).join("line")
      .attr("x1", d => x(d)).attr("x2", d => x(d)).attr("y1", p.y0).attr("y2", p.y1)
      .attr("stroke", "#ececec").attr("stroke-width", 0.9);
    gg.selectAll(".hmin").data(p.yMinor).join("line")
      .attr("x1", p.x0).attr("x2", p.x1).attr("y1", d => y(d)).attr("y2", d => y(d))
      .attr("stroke", "#ececec").attr("stroke-width", 0.9);
    gg.selectAll(".vmaj").data(p.xTicks).join("line")
      .attr("x1", d => x(d)).attr("x2", d => x(d)).attr("y1", p.y0).attr("y2", p.y1)
      .attr("stroke", "#d2d2d2").attr("stroke-width", 1.3);
    gg.selectAll(".hmaj").data(p.yTicks).join("line")
      .attr("x1", p.x0).attr("x2", p.x1).attr("y1", d => y(d)).attr("y2", d => y(d))
      .attr("stroke", "#d2d2d2").attr("stroke-width", 1.3);
  }
  const line = d3.line().defined(d => d[1] !== null).x(d => x(d[0])).y(d => y(d[1]));
  const lg = g.append("g").attr("clip-path", `url(#${cid})`);
  p.series.forEach(s => {
    lg.append("path").datum(s.data).attr("d", line)
      .attr("fill", "none").attr("stroke", s.color).attr("stroke-width", p.lw)
      .attr("stroke-linejoin", "round").attr("stroke-linecap", "round");
  });
  if (p.hline) {
    lg.append("line").attr("x1", p.x0).attr("x2", p.x1).attr("y1", y(0)).attr("y2", y(0))
      .attr("stroke", "#000").attr("stroke-width", 1.6);
  }
  g.append("rect").attr("x", p.x0).attr("y", p.y0).attr("width", p.x1 - p.x0).attr("height", p.y1 - p.y0)
    .attr("fill", "none").attr("stroke", "#555").attr("stroke-width", 1.5);
  // axes
  const xa = d3.axisBottom(x).tickValues(p.xTicks).tickSize(4.5).tickSizeOuter(0)
    .tickPadding(p.xPad).tickFormat(d => String(d * 1000));
  const ya = d3.axisLeft(y).tickValues(p.yTicks).tickSize(4.5).tickSizeOuter(0)
    .tickPadding(2.5).tickFormat(p.yFmt);
  [g.append("g").attr("transform", `translate(0,${p.y1})`).call(xa),
   g.append("g").attr("transform", `translate(${p.x0},0)`).call(ya)].forEach(ax => {
    ax.attr("font-family", FONT).attr("font-size", null);
    ax.select(".domain").attr("stroke", "#000").attr("stroke-width", 2.2);
    ax.selectAll(".tick line").attr("stroke", "#333").attr("stroke-width", 1.2);
    ax.selectAll(".tick text").attr("fill", "#111").attr("font-weight", "bold")
      .attr("font-size", p.fs);
  });
  if (p.title) {
    g.append("text").attr("x", p.x0).attr("y", p.titleY).attr("font-size", 15.5)
      .attr("fill", "#000").text(p.title);
  }
  if (p.ylab) {
    g.append("text").attr("transform", `translate(${p.ylabX},${(p.y0 + p.y1) / 2}) rotate(-90)`)
      .attr("text-anchor", "middle").attr("dy", "0.36em").attr("font-size", p.ylabFs)
      .attr("fill", "#000").text(p.ylab);
  }
  return {x, y};
}

const piFmt = d3.format(".3f");
const tajFmt = d => String(d);
const fstFmt = d3.format(".1f");

// panel (A) / (B) labels
svg.append("text").attr("x", 124).attr("y", 19).attr("text-anchor", "middle").attr("font-size", 21).text("(A)");
svg.append("text").attr("x", 982).attr("y", 19).attr("text-anchor", "middle").attr("font-size", 21).text("(B)");

const regionA = {
  pi: [piMarA, piGjA, piStA], taj: [tajMarA, tajGjA, tajStA],
  piX: [62.4, 392.6], tajX: [447, 800.5],
  tops: [160, 406.7, 654], bots: [331.7, 579.3, 826.7],
  piTitleY: [150.5, 394, 644], tajTitleY: [150.5, 394, 644],
  piLabX: 8, tajLabX: 415,
  piDom: [12065, 12835], tajDom: [12065, 12835],
  xTicks: xTicksA, xMinor: xMinorA, xPad: 2.4
};
const regionB = {
  pi: [piMarB, piGjB, piStB], taj: [tajMarB, tajGjB, tajStB],
  piX: [931.4, 1254.6], tajX: [1308.7, 1654.5],
  tops: [135, 403.3, 672.7], bots: [321.7, 590.7, 860],
  piTitleY: [128, 390, 661.5], tajTitleY: [128, 393, 661.5],
  piLabX: 879, tajLabX: 1276,
  piDom: [10065, 10835], tajDom: [10062.5, 10887.5],
  xTicks: xTicksB, xMinor: xMinorB, xPad: 2.9
};

[regionA, regionB].forEach(R => {
  populations.forEach((pop, i) => {
    drawPanel({
      x0: R.piX[0], x1: R.piX[1], y0: R.tops[i], y1: R.bots[i],
      xDomain: R.piDom, yDomain: [-0.0002, 0.0042],
      xTicks: R.xTicks, xMinor: R.xMinor, yTicks: piTicks, yMinor: piMinor,
      yFmt: piFmt, grid: true, hline: false, xPad: R.xPad, fs: 13.5, lw: 2.3,
      series: [{data: R.pi[i], color: popColors[i]}],
      title: pop, titleY: R.piTitleY[i], ylab: "Pi", ylabX: R.piLabX, ylabFs: 14
    });
    drawPanel({
      x0: R.tajX[0], x1: R.tajX[1], y0: R.tops[i], y1: R.bots[i],
      xDomain: R.tajDom, yDomain: [-4.325, 2.825],
      xTicks: R.xTicks, xMinor: R.xMinor, yTicks: tajTicks, yMinor: tajMinor,
      yFmt: tajFmt, grid: true, hline: true, xPad: R.xPad, fs: 13.5, lw: 2.3,
      series: [{data: R.taj[i], color: popColors[i]}],
      title: pop, titleY: R.tajTitleY[i], ylab: "Tajima's D", ylabX: R.tajLabX, ylabFs: 14
    });
  });
});

// FST panels
const fstA = [fstGjMarA, fstStGjA, fstStMarA];
const fstB = [fstGjMarB, fstStGjB, fstStMarB];
const drawOrder = [2, 1, 0];
function fstPanel(cfg) {
  drawPanel({
    x0: cfg.x0, x1: cfg.x1, y0: cfg.y0, y1: cfg.y1,
    xDomain: cfg.dom, yDomain: [-0.04, 0.84],
    xTicks: cfg.ticks, xMinor: [], yTicks: fstTicks, yMinor: [],
    yFmt: fstFmt, grid: false, hline: false, xPad: 2.7, fs: 18, lw: 2.4,
    series: drawOrder.map(k => ({data: cfg.data[k], color: fstColors[k]})),
    title: null, ylab: "FST", ylabX: cfg.ylabX, ylabFs: 17.5
  });
  svg.append("text").attr("x", (cfg.x0 + cfg.x1) / 2).attr("y", cfg.xlabY)
    .attr("text-anchor", "middle").attr("font-size", 18).text("Chromosome 9");
  // legend
  const lg = svg.append("g").attr("font-size", 13.6);
  lg.append("text").attr("x", cfg.leg.colorX).attr("y", cfg.leg.base).text("color");
  fstLabels.forEach((lab, k) => {
    lg.append("line").attr("x1", cfg.leg.keys[k][0]).attr("x2", cfg.leg.keys[k][1])
      .attr("y1", cfg.leg.keyY).attr("y2", cfg.leg.keyY)
      .attr("stroke", fstColors[k]).attr("stroke-width", 2.6);
    lg.append("text").attr("x", cfg.leg.texts[k]).attr("y", cfg.leg.base).text(lab);
  });
}
fstPanel({
  x0: 95.2, x1: 785.7, y0: 930, y1: 1170.7, dom: [12065, 12835], ticks: xTicksA,
  data: fstA, ylabX: 50, xlabY: 1213.5,
  leg: {colorX: 108.5, base: 914, keyY: 906.5, keys: [[158.7, 177.8], [375.7, 394], [614.8, 633]], texts: [187.8, 403, 641.8]}
});
fstPanel({
  x0: 956, x1: 1624, y0: 932.3, y1: 1168.3, dom: [10062.5, 10887.5], ticks: xTicksB,
  data: fstB, ylabX: 911.5, xlabY: 1213.5,
  leg: {colorX: 957.7, base: 922, keyY: 915, keys: [[1008.7, 1026], [1216, 1234.6], [1446, 1464]], texts: [1035, 1243, 1473.7]}
});
</script>
</body></html>
